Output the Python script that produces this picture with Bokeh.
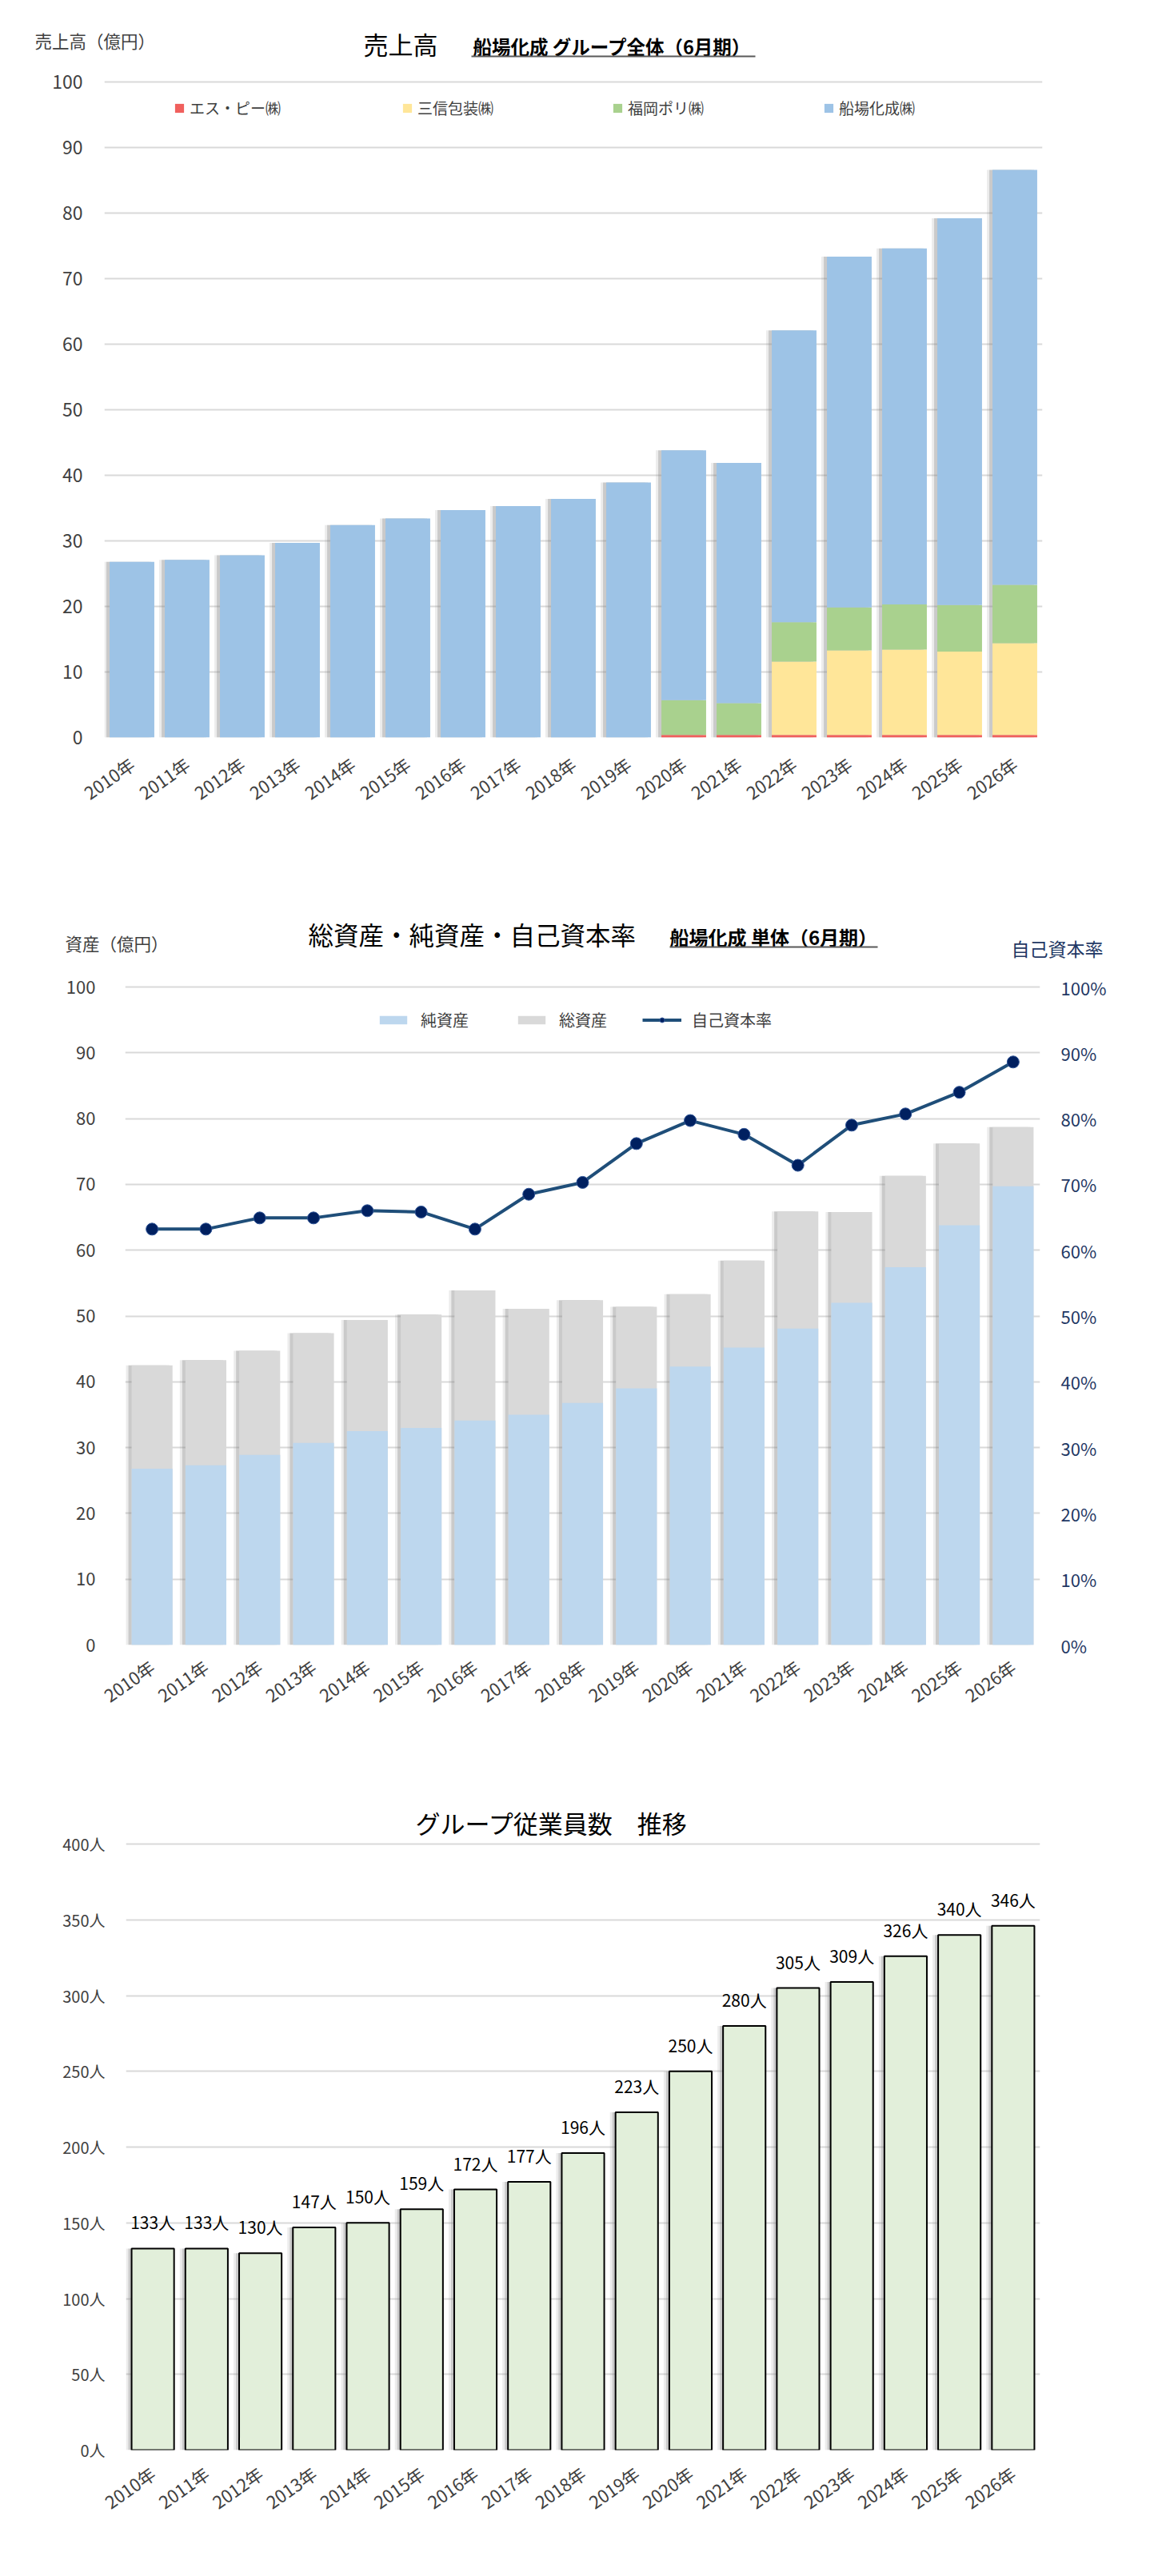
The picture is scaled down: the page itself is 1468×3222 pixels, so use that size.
import numpy as np
from bokeh.plotting import figure
from bokeh.models import (ColumnDataSource, Range1d, LinearAxis, PrintfTickFormatter,
                          Label, LabelSet, Legend, LegendItem, Arrow)
from bokeh.layouts import column
from bokeh.transform import dodge
from bokeh.core.properties import value
from bokeh.embed import file_html
from bokeh.resources import INLINE

FONT = "Noto Sans CJK JP"

# ---------------- data ----------------
years = ["2010年", "2011年", "2012年", "2013年", "2014年", "2015年", "2016年", "2017年", "2018年",
         "2019年", "2020年", "2021年", "2022年", "2023年", "2024年", "2025年", "2026年"]

# 売上高 (億円) stacked segments
sales_sp = [0, 0, 0, 0, 0, 0, 0, 0, 0, 0, 0.4, 0.4, 0.4, 0.4, 0.4, 0.4, 0.4]
sales_sanshin = [0, 0, 0, 0, 0, 0, 0, 0, 0, 0, 0, 0, 11.2, 12.9, 13.0, 12.7, 14.0]
sales_fukuoka = [0, 0, 0, 0, 0, 0, 0, 0, 0, 0, 5.3, 4.85, 6.0, 6.55, 6.9, 7.1, 8.9]
sales_semba = [26.8, 27.1, 27.8, 29.7, 32.4, 33.4, 34.7, 35.3, 36.4, 38.9, 38.1, 36.65, 44.5,
               53.5, 54.3, 59.0, 63.3]
sales_labels = ["エス・ピー㈱", "三信包装㈱", "福岡ポリ㈱", "船場化成㈱"]
sales_colors = ["#F0605D", "#FFE699", "#A9D18E", "#9DC3E6"]

# 総資産・純資産 (億円), 自己資本率 (%)
net_assets = [26.8, 27.3, 28.9, 30.7, 32.5, 33.0, 34.1, 35.0, 36.8, 39.0, 42.3, 45.2, 48.1,
              52.0, 57.4, 63.8, 69.7]
total_assets = [42.5, 43.3, 44.7, 47.4, 49.4, 50.2, 53.9, 51.1, 52.4, 51.4, 53.3, 58.4, 65.9,
                65.8, 71.3, 76.2, 78.7]
equity_ratio = [63.2, 63.2, 64.9, 64.9, 66.0, 65.8, 63.2, 68.5, 70.3, 76.2, 79.7, 77.6, 72.9,
                79.0, 80.7, 84.0, 88.6]

# グループ従業員数
employees = [133, 133, 130, 147, 150, 159, 172, 177, 196, 223, 250, 280, 305, 309, 326, 340, 346]

W = 1452
GRID = "#D9D9D9"
TICK = "#404040"
PAGE = 8  # body margin: screenshot coord = page coord + 8


def chart_fig(fig_top_page, height, left, right, frame_top, grid_top, bottom, ymax, x_standoff):
    """All geometry arguments are screenshot pixel coordinates of the reference."""
    ft = frame_top - PAGE - fig_top_page
    fh = bottom - frame_top
    fl = left - PAGE
    fw = right - left
    y_end = ymax * (bottom - frame_top) / (bottom - grid_top)
    p = figure(x_range=years, y_range=Range1d(0, y_end), width=W, height=height,
               output_backend="svg", toolbar_location=None,
               min_border_left=fl, min_border_right=W - fl - fw,
               min_border_top=ft, min_border_bottom=height - ft - fh)
    p.frame_align = False
    p.outline_line_color = None
    p.background_fill_color = "white"
    p.border_fill_color = "white"
    p.xgrid.grid_line_color = None
    p.ygrid.grid_line_color = GRID
    p.ygrid.grid_line_width = 2
    for ax in (p.xaxis[0], p.yaxis[0]):
        ax.axis_line_color = None
        ax.major_tick_line_color = None
        ax.minor_tick_line_color = None
        ax.major_tick_out = 0
        ax.major_tick_in = 0
        ax.major_label_text_font = FONT
        ax.major_label_text_color = TICK
    p.xaxis.major_label_orientation = 0.61
    p.xaxis.major_label_text_font_size = "22px"
    p.xaxis.major_label_standoff = x_standoff
    return p, y_end


def title_fig(height, top_page):
    """A plain strip above a chart that holds its titles (coords = screenshot pixels)."""
    top = top_page + PAGE
    p = figure(x_range=Range1d(PAGE, PAGE + W), y_range=Range1d(top + height, top),
               width=W, height=height, output_backend="svg", toolbar_location=None,
               x_axis_type=None, y_axis_type=None,
               min_border_left=0, min_border_right=0, min_border_top=0, min_border_bottom=0)
    p.frame_align = False
    p.outline_line_color = None
    p.grid.visible = False
    p.background_fill_color = "white"
    p.border_fill_color = "white"
    return p


def add_text(p, x, y, text, size, bold=False, color="#000000", units="data"):
    p.add_layout(Label(x=x, y=y, x_units=units, y_units=units, text=text,
                       text_font=FONT, text_font_size=f"{size}px",
                       text_font_style="bold" if bold else "normal",
                       text_color=color, text_baseline="middle", text_align="left"))


def add_underline(p, x0, x1, y):
    p.add_layout(Arrow(end=None, x_start=x0, y_start=y, x_end=x1, y_end=y,
                       line_color="#595959", line_width=2))


def add_shadow(p, src, top, width, px_per_cat):
    for off, alpha in ((-4.0, 0.30), (-7.0, 0.15)):
        p.vbar(x=dodge("year", off / px_per_cat, range=p.x_range), top=top, width=width,
               source=src, fill_color="#7F7F7F", fill_alpha=alpha, line_color=None)


def single_legend(p, item, x, y, gw, gh, standoff, size):
    lg = Legend(items=[item], location=(x, y), orientation="horizontal",
                glyph_width=gw, glyph_height=gh, label_standoff=standoff,
                label_text_font=FONT, label_text_font_size=f"{size}px",
                label_text_color="#404040", padding=0, margin=0, spacing=0,
                border_line_color=None, background_fill_alpha=0)
    p.add_layout(lg)


# ---------------- chart 1: 売上高 ----------------
T1H = 78
t1 = title_fig(T1H, 0)
add_text(t1, 462, 61.5, "売上高", 31)
add_text(t1, 599, 65.5, "船場化成 グループ全体（6月期）", 23.5, bold=True)
add_underline(t1, 597, 952, 78)
add_text(t1, 51, 58, "売上高（億円）", 21.5, color="#404040")

L1, R1, B1 = 138, 1311, 930
p1, _ = chart_fig(T1H, 1100 - T1H, L1, R1, 88, 110, B1, 100, 30)
p1.yaxis.ticker = list(range(0, 101, 10))
p1.yaxis.major_label_text_font_size = "23px"
p1.yaxis.major_label_standoff = 27

src1 = ColumnDataSource(dict(year=years, sp=sales_sp, sanshin=sales_sanshin,
                             fukuoka=sales_fukuoka, semba=sales_semba,
                             total=list(np.sum([sales_sp, sales_sanshin, sales_fukuoka,
                                                sales_semba], axis=0))))
add_shadow(p1, src1, "total", 0.81, (R1 - L1) / 17)
rs1 = p1.vbar_stack(["sp", "sanshin", "fukuoka", "semba"], x="year", width=0.81,
                    fill_color=sales_colors, line_color=None, source=src1)
for r, lab, lx in zip(rs1, sales_labels, [225, 510, 773, 1037]):
    single_legend(p1, LegendItem(label=lab, renderers=[r]), lx - L1, B1 - 156, 14, 14, 6, 19)

# ---------------- chart 2: 総資産・純資産・自己資本率 ----------------
T2TOP, T2H = 1100, 108
t2 = title_fig(T2H, T2TOP)
add_text(t2, 393, 1175.5, "総資産・純資産・自己資本率", 31.5)
add_text(t2, 845, 1179, "船場化成 単体（6月期）", 24, bold=True)
add_underline(t2, 845, 1105, 1192)
add_text(t2, 89, 1187, "資産（億円）", 21.5, color="#404040")
add_text(t2, 1272, 1193, "自己資本率", 23, color="#1F3864")

L2, R2, B2 = 164, 1308, 2065
C2TOP = T2TOP + T2H
p2, y2_end = chart_fig(C2TOP, 2200 - C2TOP, L2, R2, 1218, 1242, B2, 100, 24)
p2.yaxis.ticker = list(range(0, 101, 10))
p2.yaxis.major_label_text_font_size = "22px"
p2.yaxis.major_label_standoff = 37
p2.extra_y_ranges = {"pct": Range1d(0, y2_end)}
ax_r = LinearAxis(y_range_name="pct", ticker=list(range(0, 101, 10)),
                  formatter=PrintfTickFormatter(format="%d%%"))
ax_r.axis_line_color = None
ax_r.major_tick_line_color = None
ax_r.minor_tick_line_color = None
ax_r.major_tick_out = 0
ax_r.major_tick_in = 0
ax_r.major_label_standoff = 26
ax_r.major_label_text_font = FONT
ax_r.major_label_text_font_size = "22px"
ax_r.major_label_text_color = "#1F3864"
p2.add_layout(ax_r, "right")

src2 = ColumnDataSource(dict(year=years, net=net_assets, total=total_assets, ratio=equity_ratio))
add_shadow(p2, src2, "total", 0.76, (R2 - L2) / 17)
r_tot = p2.vbar(x="year", top="total", width=0.76, source=src2, fill_color="#D9D9D9",
                line_color=None)
r_net = p2.vbar(x="year", top="net", width=0.76, source=src2, fill_color="#BDD7EE",
                line_color=None)
r_line = p2.line(x="year", y="ratio", source=src2, y_range_name="pct", line_color="#1F4E79",
                 line_width=4)
r_pts = p2.scatter(x="year", y="ratio", source=src2, y_range_name="pct", size=15,
                   fill_color="#002060", line_color="#2F5597", line_width=1)
single_legend(p2, LegendItem(label="純資産", renderers=[r_net]), 478 - L2, B2 - 1298, 43, 13, 13, 20)
single_legend(p2, LegendItem(label="総資産", renderers=[r_tot]), 651 - L2, B2 - 1298, 43, 13, 13, 20)
single_legend(p2, LegendItem(label="自己資本率", renderers=[r_line, r_pts]), 811 - L2, B2 - 1298,
              49, 15, 13, 20)

# ---------------- chart 3: グループ従業員数 推移 ----------------
L3, R3, B3 = 165, 1308, 3072
p3, _ = chart_fig(2200, 1000, L3, R3, 2210, 2314, B3, 400, 26)
p3.yaxis.ticker = list(range(0, 401, 50))
p3.yaxis.formatter = PrintfTickFormatter(format="%d人")
p3.yaxis.major_label_text_font_size = "20px"
p3.yaxis.major_label_standoff = 26
add_text(p3, 527 - L3, B3 - 2286.5, "グループ従業員数　推移", 31, units="screen")

src3 = ColumnDataSource(dict(year=years, emp=employees, lbl=[f"{v}人" for v in employees]))
add_shadow(p3, src3, "emp", 0.79, (R3 - L3) / 17)
p3.vbar(x="year", top="emp", width=0.79, source=src3, fill_color="#E2EFDA",
        line_color="#000000", line_width=2)
p3.add_layout(LabelSet(x="year", y="emp", text="lbl", source=src3, y_offset=24,
                       text_align="center", text_baseline="alphabetic",
                       text_font=value(FONT), text_font_size="21px", text_color="#000000"))

layout = column(t1, p1, t2, p2, p3, spacing=0)
open("out.html", "w").write(file_html(layout, INLINE))
